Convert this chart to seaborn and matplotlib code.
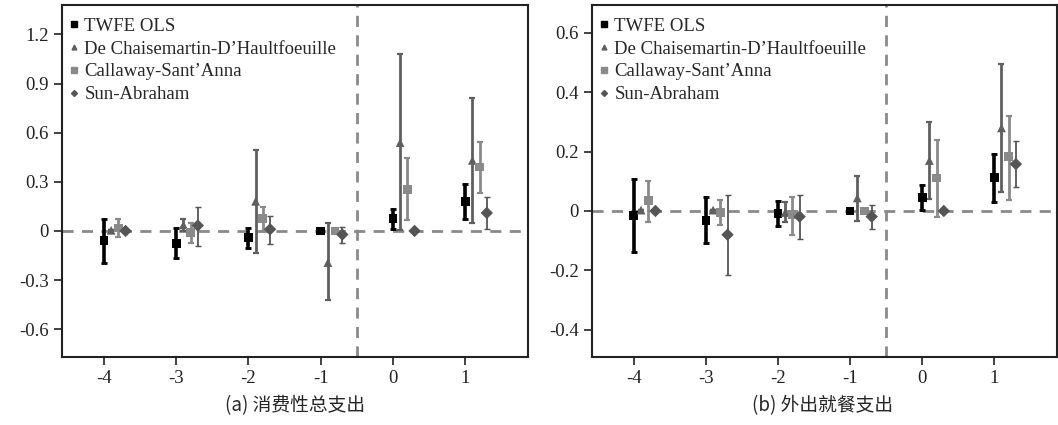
import numpy as np
import pandas as pd
import matplotlib
matplotlib.use("Agg")
import matplotlib.pyplot as plt
import seaborn as sns
from matplotlib.ticker import FuncFormatter

periods = [-4, -3, -2, -1, 0, 1]
methods = ["TWFE OLS", "De Chaisemartin-D\u2019Haultfoeuille", "Callaway-Sant\u2019Anna", "Sun-Abraham"]

# (a) 消费性总支出: estimate, lower, upper
a_twfe = [-0.06, -0.075, -0.04, 0.0, 0.075, 0.179]
a_twfe_lo = [-0.195, -0.168, -0.105, 0.0, 0.01, 0.075]
a_twfe_hi = [0.075, 0.02, 0.02, 0.0, 0.132, 0.285]
a_dcdh = [0.004, 0.037, 0.181, -0.193, 0.539, 0.431]
a_dcdh_lo = [0.004, 0.0, -0.136, -0.424, 0.003, 0.051]
a_dcdh_hi = [0.004, 0.075, 0.496, 0.049, 1.081, 0.809]
a_cs = [0.018, -0.01, 0.075, 0.0, 0.254, 0.39]
a_cs_lo = [-0.04, -0.075, 0.0, 0.0, 0.067, 0.234]
a_cs_hi = [0.075, 0.049, 0.149, 0.0, 0.445, 0.545]
a_sa = [0.0, 0.033, 0.01, -0.022, 0.0, 0.11]
a_sa_lo = [0.0, -0.091, -0.077, -0.075, 0.0, 0.01]
a_sa_hi = [0.0, 0.149, 0.094, 0.027, 0.0, 0.207]

# (b) 外出就餐支出
b_twfe = [-0.015, -0.031, -0.008, 0.0, 0.046, 0.113]
b_twfe_lo = [-0.138, -0.108, -0.052, 0.0, 0.003, 0.031]
b_twfe_hi = [0.108, 0.046, 0.034, 0.0, 0.088, 0.192]
b_dcdh = [0.003, 0.003, -0.005, 0.044, 0.17, 0.28]
b_dcdh_lo = [0.003, 0.003, -0.036, -0.033, 0.04, 0.065]
b_dcdh_hi = [0.003, 0.003, 0.029, 0.119, 0.301, 0.495]
b_cs = [0.034, -0.005, -0.013, 0.0, 0.111, 0.184]
b_cs_lo = [-0.036, -0.048, -0.08, 0.0, -0.019, 0.038]
b_cs_hi = [0.102, 0.038, 0.048, 0.0, 0.24, 0.321]
b_sa = [0.0, -0.08, -0.019, -0.019, 0.0, 0.158]
b_sa_lo = [0.0, -0.216, -0.094, -0.061, 0.0, 0.08]
b_sa_hi = [0.0, 0.055, 0.054, 0.021, 0.0, 0.236]


def build(est, lo, hi):
    rows = []
    for m, e, l, h in zip(methods, est, lo, hi):
        for p, v, vl, vh in zip(periods, e, l, h):
            rows.append({"period": p, "method": m, "est": v, "lo": vl, "hi": vh})
    return pd.DataFrame(rows)


df_a = build([a_twfe, a_dcdh, a_cs, a_sa], [a_twfe_lo, a_dcdh_lo, a_cs_lo, a_sa_lo],
             [a_twfe_hi, a_dcdh_hi, a_cs_hi, a_sa_hi])
df_b = build([b_twfe, b_dcdh, b_cs, b_sa], [b_twfe_lo, b_dcdh_lo, b_cs_lo, b_sa_lo],
             [b_twfe_hi, b_dcdh_hi, b_cs_hi, b_sa_hi])

sns.set_style("ticks")
plt.rcParams['font.family'] = ['Liberation Serif', 'Noto Sans CJK SC']
plt.rcParams['axes.unicode_minus'] = False

styles = {
    methods[0]: dict(offset=0.0, marker="s", color="#000000", ms=6, lw=2.6, cap=2.2),
    methods[1]: dict(offset=0.1, marker="^", color="#5f5f5f", ms=4.5, lw=2.0, cap=2.2),
    methods[2]: dict(offset=0.2, marker="s", color="#8a8a8a", ms=5, lw=2.0, cap=2.2),
    methods[3]: dict(offset=0.3, marker="D", color="#555555", ms=4, lw=1.3, cap=2.2),
}

fig = plt.figure(figsize=(10.58, 4.25), dpi=100)
ax_a = fig.add_axes([62 / 1058, 68 / 425, 466 / 1058, 352 / 425])
ax_b = fig.add_axes([592 / 1058, 68 / 425, 465 / 1058, 352 / 425])


def fmt(v, pos):
    if abs(v) < 1e-9:
        return "0"
    return "%.1f" % v


def draw(ax, df, ylim, yticks):
    ax.axhline(0, color="#8a8a8a", ls=(0, (4, 3)), lw=2, zorder=1)
    ax.axvline(-0.5, color="#8a8a8a", ls=(0, (4, 3)), lw=2, zorder=1)
    for m in methods:
        s = styles[m]
        d = df[df["method"] == m]
        x = d["period"] + s["offset"]
        err = np.vstack([d["est"] - d["lo"], d["hi"] - d["est"]])
        ax.errorbar(x, d["est"], yerr=err, fmt="none", ecolor=s["color"],
                    elinewidth=s["lw"], capsize=s["cap"], capthick=s["lw"] * 0.8, zorder=2)
    sns.scatterplot(data=df.assign(x=df["period"] + df["method"].map(lambda m: styles[m]["offset"])),
                    x="x", y="est", hue="method", style="method",
                    palette={m: styles[m]["color"] for m in methods},
                    markers={m: styles[m]["marker"] for m in methods},
                    s=40, edgecolor="none", linewidth=0, ax=ax, zorder=3, legend=False)
    ax.set_xlim(-4.58, 1.87)
    ax.set_ylim(*ylim)
    ax.set_xticks(periods)
    ax.set_yticks(yticks)
    ax.yaxis.set_major_formatter(FuncFormatter(fmt))
    ax.set_xlabel("")
    ax.set_ylabel("")
    ax.tick_params(labelsize=13.5, length=6, width=1.2, colors="#222222")
    for sp in ax.spines.values():
        sp.set_linewidth(1.5)
        sp.set_color("#222222")
    handles = [plt.Line2D([], [], ls="none", marker=styles[m]["marker"], color=styles[m]["color"],
                          ms=styles[m]["ms"] - 1) for m in methods]
    ax.legend(handles, methods, loc="upper left", frameon=False, fontsize=13.5,
              handlelength=0.5, handletextpad=0.3, labelspacing=0.3,
              borderaxespad=0.0, bbox_to_anchor=(0.0, 0.985))


draw(ax_a, df_a, (-0.77, 1.38), [-0.6, -0.3, 0, 0.3, 0.6, 0.9, 1.2])
draw(ax_b, df_b, (-0.492, 0.694), [-0.4, -0.2, 0, 0.2, 0.4, 0.6])

fig.text(0.279, 0.045, "(a) 消费性总支出", ha="center", va="center", fontsize=13.5,
         family=['Noto Sans CJK SC', 'DejaVu Sans'])
fig.text(0.777, 0.045, "(b) 外出就餐支出", ha="center", va="center", fontsize=13.5,
         family=['Noto Sans CJK SC', 'DejaVu Sans'])

fig.savefig("out.png", dpi=100)
